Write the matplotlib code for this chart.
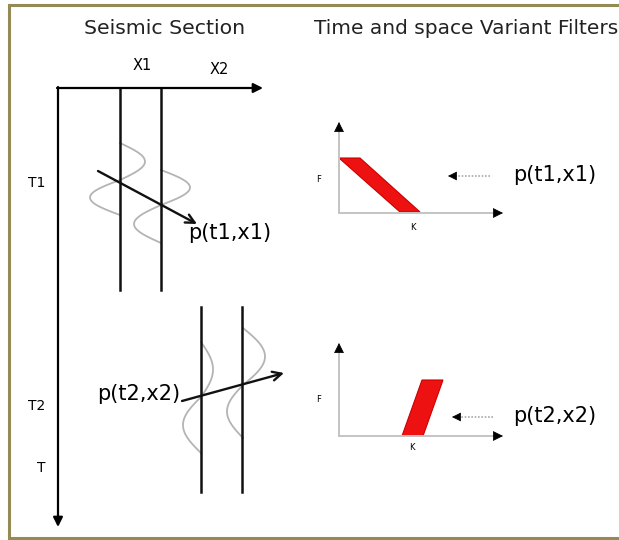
import numpy as np
import matplotlib
matplotlib.use("Agg")
import matplotlib.pyplot as plt
from matplotlib.patches import Polygon

# 図の座標系 (ピクセル単位, y は下向き)
W, H = 619, 540

# 地震断面: 軸
section_origin = (58, 88)
section_x_end = 263
section_t_end = 527

# トレース位置と範囲 (x, y_top, y_bottom)
traces_top = [(120, 88, 290), (161, 88, 290)]
traces_bottom = [(201, 307, 492), (242, 307, 492)]

# 波形ローブ (トレース x, y開始, y終了, 振幅)
wiggle_lobes = [
    (120, 143, 180, 25), (120, 180, 215, -30),
    (161, 170, 205, 29), (161, 205, 243, -27),
    (201, 342, 397, 12), (201, 397, 453, -18),
    (243, 328, 385, 22), (243, 385, 438, -16),
]

# 傾斜矢印 (始点, 終点)
dip_arrows = [((98, 171), (197, 224)), ((182, 401), (284, 373))]

# フィルタ図: 原点, 上端, 右端
filter_axes = [((339, 213), 122, 503), ((339, 436), 343, 503)]
# 通過帯域 (F-K)
filter_bands = [
    [(339, 158), (360, 158), (420, 212), (400, 212)],
    [(402, 436), (423, 436), (443, 380), (422, 380)],
]
# 点線矢印 (始点x, 先端x, y)
dotted_arrows = [(490, 448, 176), (493, 452, 417)]

labels_p = ["p(t1,x1)", "p(t2,x2)"]

fig = plt.figure(figsize=(W / 100, H / 100), dpi=100)
ax = fig.add_axes([0, 0, 1, 1])
ax.set_xlim(0, W)
ax.set_ylim(H, 0)
ax.axis("off")

# 枠線
border = "#938a55"
ax.plot([9, W + 5], [5, 5], color=border, lw=2.2, solid_capstyle="butt")
ax.plot([9, 9], [5, 538], color=border, lw=2.2)
ax.plot([9, W + 5], [538, 538], color=border, lw=2.2, solid_capstyle="butt")

# タイトル
ax.text(165, 28, "Seismic Section", fontsize=14.7, ha="center", va="center", color="#222222")
ax.text(314, 28, "Time and space Variant Filters", fontsize=14.5, ha="left", va="center", color="#222222")

# 断面の軸
ox, oy = section_origin
ax.annotate("", xy=(section_x_end, oy), xytext=(ox - 1, oy),
            arrowprops=dict(arrowstyle="-|>", lw=1.6, color="black", mutation_scale=14, shrinkA=0, shrinkB=0))
ax.annotate("", xy=(ox, section_t_end), xytext=(ox, oy - 1),
            arrowprops=dict(arrowstyle="-|>", lw=1.6, color="black", mutation_scale=14, shrinkA=0, shrinkB=0))

ax.text(142, 66, "X1", fontsize=10.5, ha="center", va="center")
ax.text(219, 70, "X2", fontsize=10.5, ha="center", va="center")
ax.text(37, 183, "T1", fontsize=10, ha="center", va="center")
ax.text(37, 406, "T2", fontsize=10, ha="center", va="center")
ax.text(41, 468, "T", fontsize=10, ha="center", va="center")

# 波形
for x0, y0, y1, amp in wiggle_lobes:
    yy = np.linspace(y0, y1, 60)
    xx = x0 + amp * np.sin(np.pi * (yy - y0) / (y1 - y0))
    ax.plot(xx, yy, color="#b4b4b4", lw=1.3)

# トレース
for x, y0, y1 in traces_top + traces_bottom:
    ax.plot([x, x], [y0, y1], color="#111111", lw=1.8)

# 傾斜矢印
for start, end in dip_arrows:
    ax.annotate("", xy=end, xytext=start,
                arrowprops=dict(arrowstyle="->", lw=1.7, color="#111111", mutation_scale=16, shrinkA=0, shrinkB=0))

ax.text(188, 233, labels_p[0], fontsize=15, ha="left", va="center")
ax.text(180, 394, labels_p[1], fontsize=15, ha="right", va="center")

# フィルタ図
for ((fx, fy), ftop, fright), band, (dx0, dx1, dy), lab in zip(filter_axes, filter_bands, dotted_arrows, labels_p):
    ax.plot([fx, fx], [fy, ftop + 6], color="#c4c4c4", lw=1.4)
    ax.plot([fx, fright - 6], [fy, fy], color="#c4c4c4", lw=1.4)
    ax.annotate("", xy=(fx, ftop), xytext=(fx, ftop + 9),
                arrowprops=dict(arrowstyle="-|>", lw=0.5, color="black", mutation_scale=16, shrinkA=0, shrinkB=0))
    ax.annotate("", xy=(fright, fy), xytext=(fright - 9, fy),
                arrowprops=dict(arrowstyle="-|>", lw=0.5, color="black", mutation_scale=16, shrinkA=0, shrinkB=0))
    ax.add_patch(Polygon(band, closed=True, facecolor="#ee1111", edgecolor="#cc0000", lw=0.8))
    ax.plot([dx0, dx1 + 8], [dy, dy], color="#aaaaaa", lw=1.2, ls=(0, (1, 1)))
    ax.annotate("", xy=(dx1, dy), xytext=(dx1 + 8, dy),
                arrowprops=dict(arrowstyle="-|>", lw=0.5, color="black", mutation_scale=14, shrinkA=0, shrinkB=0))
    ax.text(513, dy - 1, lab, fontsize=15, ha="left", va="center")

ax.text(319, 180, "F", fontsize=6, ha="center", va="center")
ax.text(413, 228, "K", fontsize=6, ha="center", va="center")
ax.text(319, 400, "F", fontsize=6, ha="center", va="center")
ax.text(412, 447, "K", fontsize=6, ha="center", va="center")

fig.savefig("out.png", dpi=100, facecolor="white")
